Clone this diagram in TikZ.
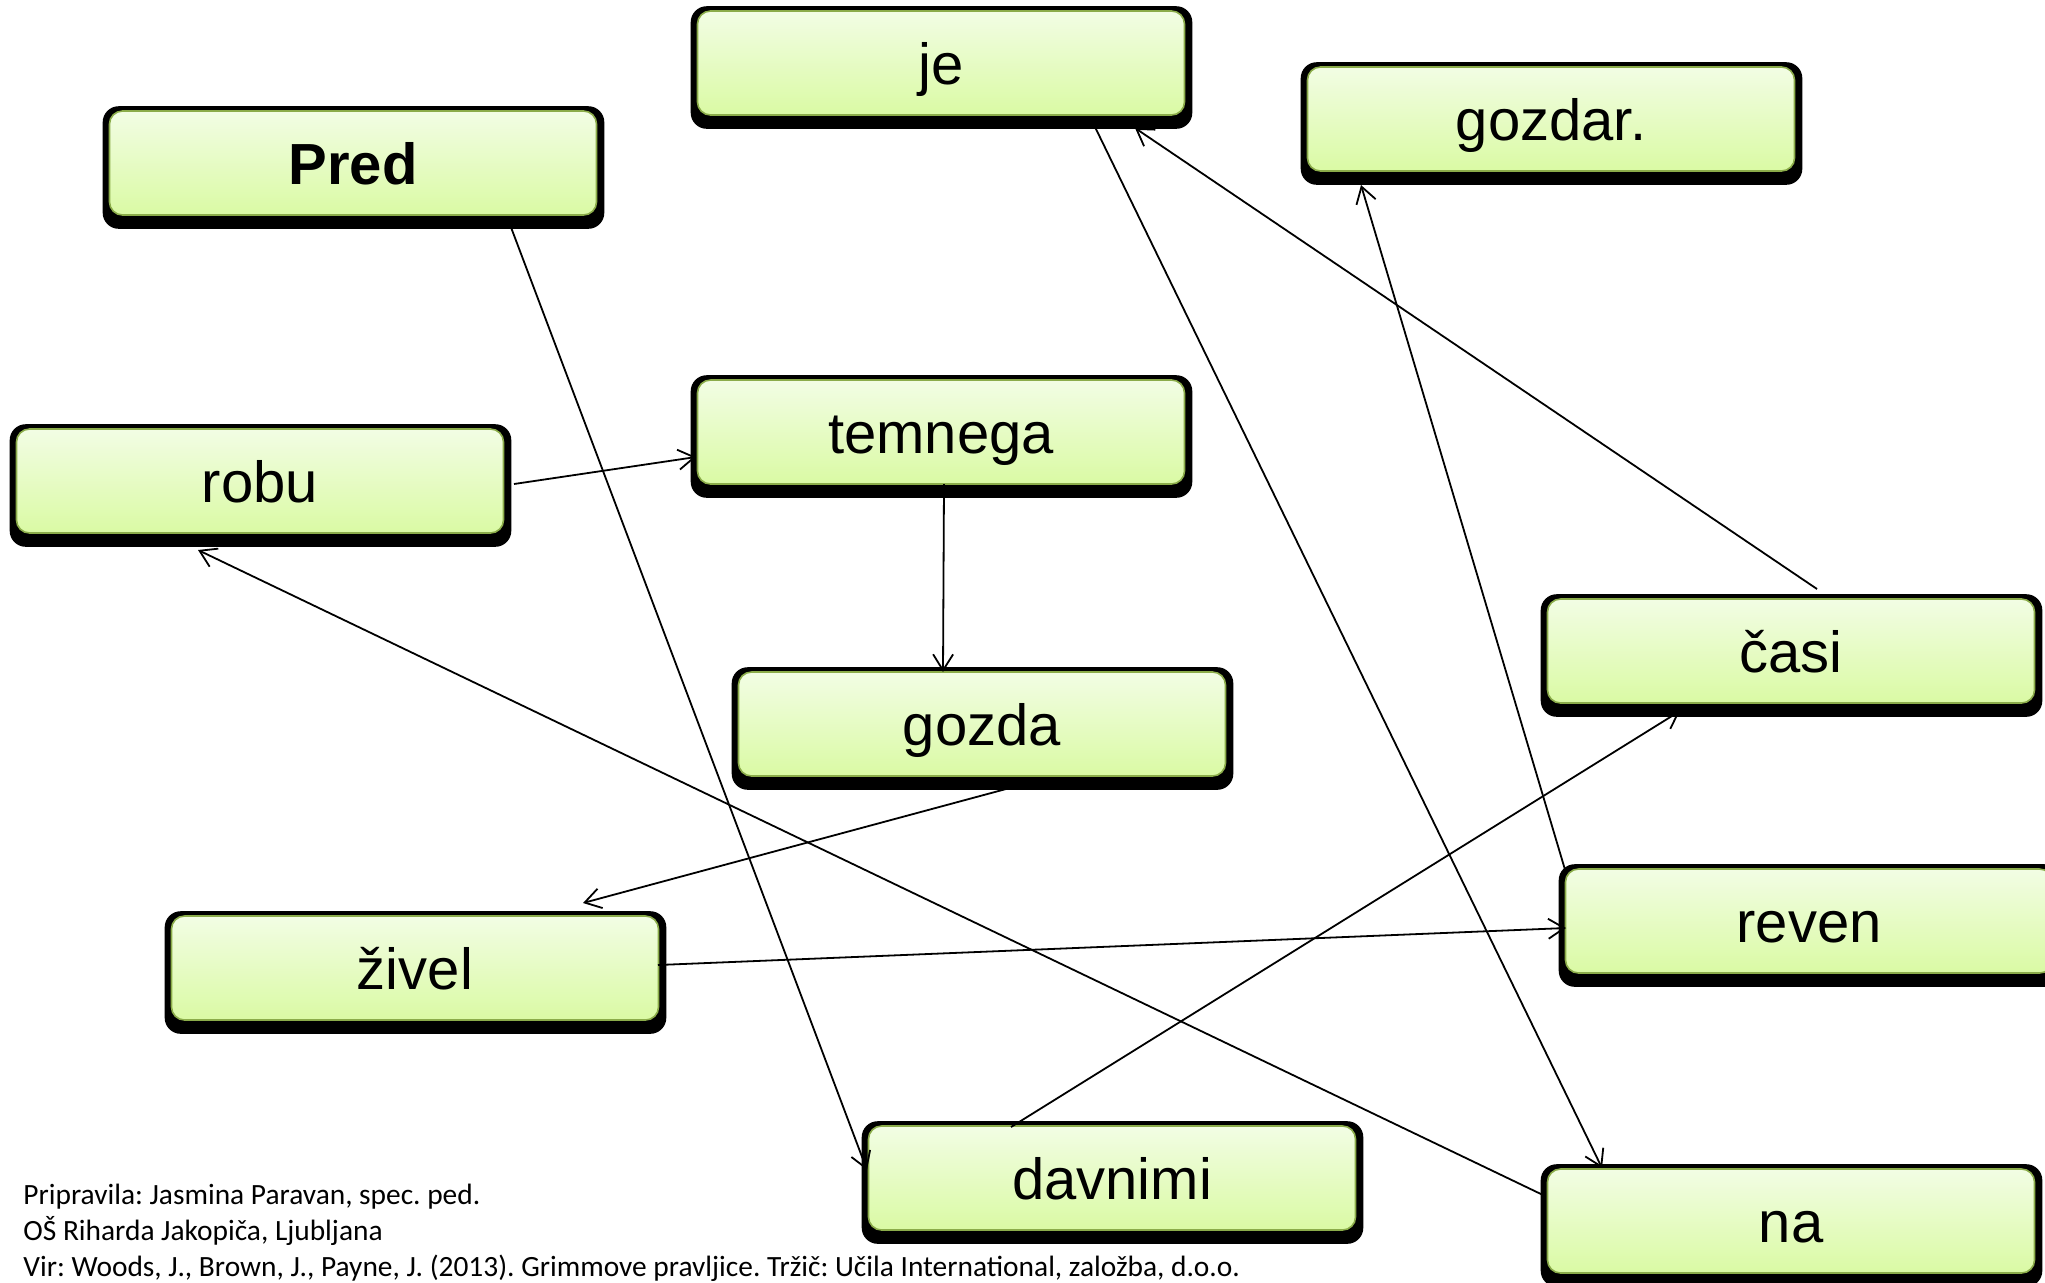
\documentclass[tikz,border=0pt]{standalone}
\usepackage{fontspec}
\setmainfont{Liberation Sans}
\newfontfamily\footfont{Carlito}
\usetikzlibrary{arrows.meta}
\frenchspacing
\pgfdeclarelayer{background}
\pgfsetlayers{background,main}
\definecolor{boxtop}{RGB}{242,253,228}
\definecolor{boxbot}{RGB}{218,250,164}
\definecolor{boxedge}{RGB}{139,172,74}
\tikzset{
  wbox/.style={rectangle, rounded corners=6.5pt, minimum width=243.5pt, minimum height=52pt,
    inner sep=0pt, text height=21pt, text depth=0pt, draw=boxedge, line width=0.8pt,
    top color=boxtop, bottom color=boxbot, font=\fontsize{29}{34}\selectfont},
  conn/.style={line width=0.9pt, -{Straight Barb[length=8pt,width=10pt]}},
  foot/.style={anchor=base west, inner sep=0pt, font=\footfont\fontsize{14.7}{17}\selectfont}
}
\begin{document}
\begin{tikzpicture}[x=0.5pt,y=-0.5pt]
\useasboundingbox (0,0) rectangle (2045,1282);
\clip (0,0) rectangle (2045,1282);
\node[wbox, font=\fontsize{29}{34}\selectfont\bfseries] (pred) at (353,163) {Pred};
\node[wbox] (je) at (941,63) {je};
\node[wbox] (gozdar) at (1551,119) {gozdar.};
\node[wbox] (robu) at (260,481) {robu};
\node[wbox] (temnega) at (941,432) {temnega};
\node[wbox] (casi) at (1791,651) {časi};
\node[wbox] (gozda) at (982,724) {gozda};
\node[wbox] (reven) at (1809,921) {reven};
\node[wbox] (zivel) at (415,968) {živel};
\node[wbox] (davnimi) at (1112,1178) {davnimi};
\node[wbox] (na) at (1791,1221) {na};
\begin{pgfonlayer}{background}
\foreach \n in {pred,je,gozdar,robu,temnega,casi,gozda,reven,zivel,davnimi,na}{
  \fill[black, rounded corners=8pt] ([shift={(-6,-4)}]\n.north west) rectangle ([shift={(7,13)}]\n.south east);
}
\end{pgfonlayer}
\draw[conn] ([shift={(156,59)}]pred.center) -- ([shift={(-245,-8)}]davnimi.center);
\draw[conn] ([shift={(154,64)}]je.center) -- ([shift={(-189,-53)}]na.center);
\draw[conn] ([shift={(26,-62)}]casi.center) -- ([shift={(194,65)}]je.center);
\draw[conn] ([shift={(-243,-48)}]reven.center) -- ([shift={(-190,66)}]gozdar.center);
\draw[conn] ([shift={(254,3)}]robu.center) -- ([shift={(-245,25)}]temnega.center);
\draw[conn] ([shift={(3,52)}]temnega.center) -- ([shift={(-39,-52)}]gozda.center);
\draw[conn] ([shift={(24,65)}]gozda.center) -- ([shift={(168,-65)}]zivel.center);
\draw[conn] ([shift={(-248,-26)}]na.center) -- ([shift={(-62,69)}]robu.center);
\draw[conn] ([shift={(243,-3)}]zivel.center) -- ([shift={(-243,7)}]reven.center);
\draw[conn] ([shift={(-101,-51)}]davnimi.center) -- ([shift={(-111,60)}]casi.center);
\node[foot] (f1) at (23,1204) {Pripravila: Jasmina Paravan, spec. ped.};
\node[foot] (f2) at (23,1240) {OŠ Riharda Jakopiča, Ljubljana};
\node[foot] (f3) at (23,1276) {Vir: Woods, J., Brown, J., Payne, J. (2013). Grimmove pravljice. Tržič: Učila International, založba, d.o.o.};
\end{tikzpicture}
\end{document}
